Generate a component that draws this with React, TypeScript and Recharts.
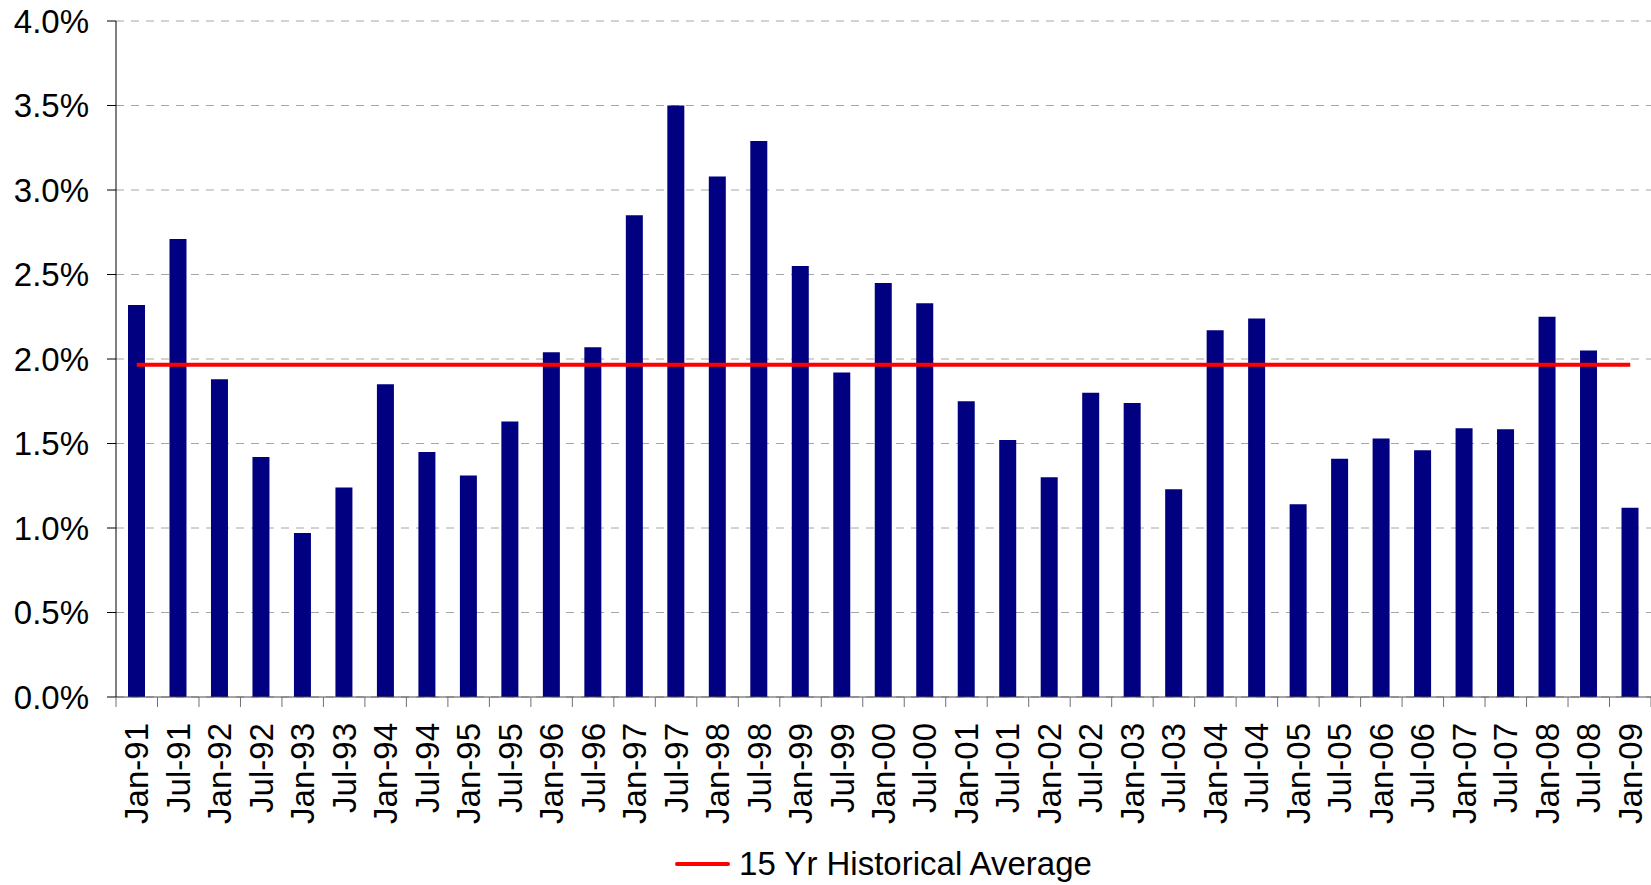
import { ComposedChart, Bar, Line, XAxis, YAxis, CartesianGrid, Legend } from "recharts";

const months = [
  "Jan-91", "Jul-91", "Jan-92", "Jul-92", "Jan-93", "Jul-93", "Jan-94", "Jul-94",
  "Jan-95", "Jul-95", "Jan-96", "Jul-96", "Jan-97", "Jul-97", "Jan-98", "Jul-98",
  "Jan-99", "Jul-99", "Jan-00", "Jul-00", "Jan-01", "Jul-01", "Jan-02", "Jul-02",
  "Jan-03", "Jul-03", "Jan-04", "Jul-04", "Jan-05", "Jul-05", "Jan-06", "Jul-06",
  "Jan-07", "Jul-07", "Jan-08", "Jul-08", "Jan-09",
];

const rates = [
  2.32, 2.71, 1.88, 1.42, 0.97, 1.24, 1.85, 1.45,
  1.31, 1.63, 2.04, 2.07, 2.85, 3.5, 3.08, 3.29,
  2.55, 1.92, 2.45, 2.33, 1.75, 1.52, 1.3, 1.8,
  1.74, 1.23, 2.17, 2.24, 1.14, 1.41, 1.53, 1.46,
  1.59, 1.585, 2.25, 2.05, 1.12,
];

const HIST_AVG = 1.966;
const yTicks = [0, 0.5, 1, 1.5, 2, 2.5, 3, 3.5, 4];

const W = 1651;
const H = 885;
const AXIS_W = 116;
const BAND = (W - AXIS_W) / months.length;
const FONT = '"Liberation Sans", Arial, sans-serif';
const FS = 33;

const data = months.map((m, i) => ({ month: m, rate: rates[i], avg: HIST_AVG }));

// Excel style: ticks sit between categories, labels rotated
function MonthTick({ x, y, payload, index }: any) {
  const axisY = y - 26;
  const tx = x - BAND / 2;
  return (
    <g>
      <line x1={tx} x2={tx} y1={axisY} y2={axisY + 10} stroke="#707070" />
      {index === months.length - 1 && (
        <line x1={x + BAND / 2} x2={x + BAND / 2} y1={axisY} y2={axisY + 10} stroke="#707070" />
      )}
      <text
        x={x}
        y={y}
        transform={`rotate(-90, ${x}, ${y})`}
        textAnchor="end"
        dominantBaseline="central"
        fontSize={FS}
        fontFamily={FONT}
        fill="#000"
      >
        {payload.value}
      </text>
    </g>
  );
}

function AvgLegend() {
  return (
    <div
      style={{
        marginLeft: AXIS_W,
        width: W - AXIS_W,
        height: 42,
        display: "flex",
        alignItems: "center",
        justifyContent: "center",
        fontFamily: FONT,
        fontSize: FS,
        color: "#000",
      }}
    >
      <span style={{ display: "inline-block", width: 55, height: 4, background: "#ff0000", borderRadius: 2, marginRight: 9 }} />
      <span>15 Yr Historical Average</span>
    </div>
  );
}

export default function App() {
  return (
    <div style={{ position: "absolute", left: 0, top: 0, background: "#fff" }}>
      <ComposedChart width={W} height={H} data={data} margin={{ top: 21, right: 0, left: 0, bottom: 0 }}>
        <CartesianGrid vertical={false} stroke="#a6a6a6" strokeDasharray="8 7" />
        <XAxis
          dataKey="month"
          interval={0}
          height={146}
          tick={<MonthTick />}
          tickLine={false}
          tickSize={10}
          tickMargin={16}
          axisLine={{ stroke: "#4d4d4d" }}
        />
        <YAxis
          width={AXIS_W}
          domain={[0, 4]}
          ticks={yTicks}
          interval={0}
          tickFormatter={(v: number) => v.toFixed(1) + "%"}
          tick={{ fontSize: FS, fill: "#000", fontFamily: FONT }}
          axisLine={{ stroke: "#000" }}
          tickLine={{ stroke: "#000" }}
          tickSize={9}
          tickMargin={18}
        />
        <Legend verticalAlign="bottom" content={<AvgLegend />} wrapperStyle={{ left: 0 }} />
        <Bar dataKey="rate" fill="#000080" barSize={17} isAnimationActive={false} />
        <Line
          dataKey="avg"
          stroke="#ff0000"
          strokeWidth={4}
          dot={false}
          activeDot={false}
          isAnimationActive={false}
        />
      </ComposedChart>
    </div>
  );
}
